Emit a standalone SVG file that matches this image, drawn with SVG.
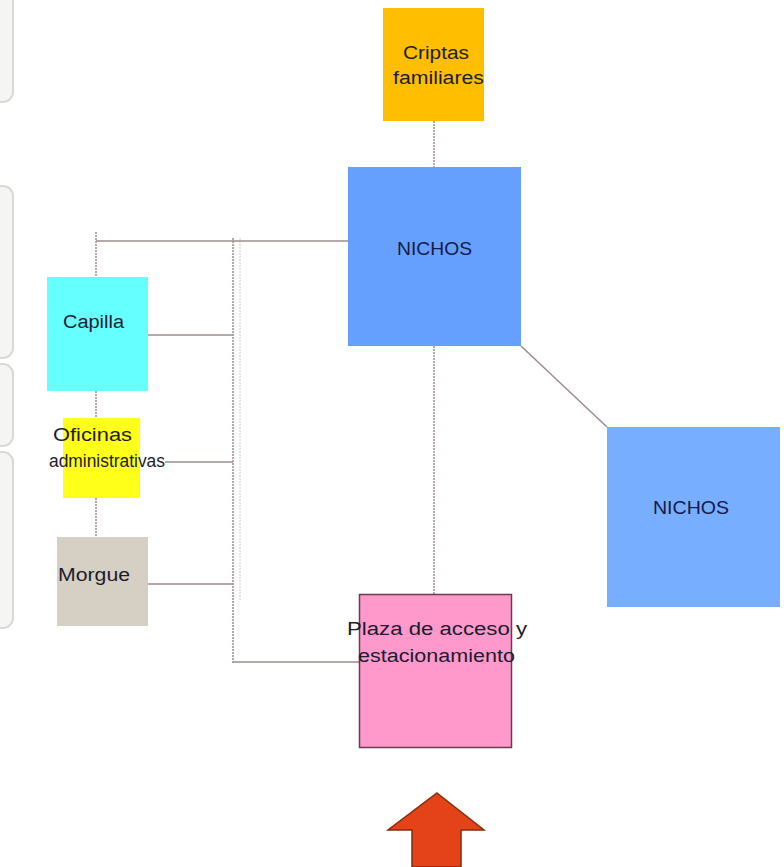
<svg xmlns="http://www.w3.org/2000/svg" width="784" height="867" viewBox="0 0 784 867">
<style>
.bk{fill:#f5f5f3;stroke:#d9d9d7;stroke-width:2}
.c{stroke:#9c8c8c;stroke-width:1.5;fill:none}
.d{stroke:#9c8c8c;stroke-width:1.5;fill:none;stroke-dasharray:2 1}
.t{font-family:"Liberation Sans",Arial,sans-serif;font-size:18px;fill:#1c1c2c}
</style>
<rect width="784" height="867" fill="#ffffff"/>
<g id="side-brackets">
<rect class="bk" x="-30" y="-20" width="43" height="122" rx="10"/>
<rect class="bk" x="-30" y="186" width="43" height="172" rx="10"/>
<rect class="bk" x="-30" y="364" width="43" height="82" rx="10"/>
<rect class="bk" x="-30" y="452" width="43" height="176" rx="10"/>
</g>
<g id="connectors">
<line class="d" x1="434" y1="121" x2="434" y2="167"/>
<line class="c" x1="96" y1="241" x2="348" y2="241"/>
<line class="d" x1="96" y1="232" x2="96" y2="277"/>
<line class="d" x1="96" y1="391" x2="96" y2="418"/>
<line class="d" x1="96" y1="498" x2="96" y2="537"/>
<line class="d" x1="233" y1="238" x2="233" y2="664"/>
<line class="d" x1="240" y1="238" x2="240" y2="600" stroke-opacity="0.3"/>
<line class="c" x1="148" y1="335" x2="233" y2="335"/>
<line class="c" x1="165" y1="462" x2="233" y2="462"/>
<line class="c" x1="148" y1="584" x2="233" y2="584"/>
<line class="c" x1="233" y1="662" x2="359" y2="662"/>
<line class="d" x1="434" y1="346" x2="434" y2="594"/>
<line class="c" x1="521" y1="346" x2="607" y2="427"/>
</g>
<g id="criptas">
<rect x="383" y="8" width="101" height="113" fill="#FFBF00"/>
<text class="t" x="403" y="59" textLength="66" lengthAdjust="spacingAndGlyphs">Criptas</text>
<text class="t" x="393" y="84" textLength="91" lengthAdjust="spacingAndGlyphs">familiares</text>
</g>
<g id="nichos1">
<rect x="348" y="167" width="173" height="179" fill="#66A0FF"/>
<text class="t" x="397" y="255" textLength="75" lengthAdjust="spacingAndGlyphs" style="fill:#141a4a">NICHOS</text>
</g>
<g id="nichos2">
<rect x="607" y="427" width="173" height="180" fill="#78AEFF"/>
<text class="t" x="653" y="514" textLength="76" lengthAdjust="spacingAndGlyphs" style="fill:#141a4a">NICHOS</text>
</g>
<g id="capilla">
<rect x="47" y="277" width="101" height="114" fill="#66FFFF"/>
<text class="t" x="63" y="328" textLength="61" lengthAdjust="spacingAndGlyphs">Capilla</text>
</g>
<g id="oficinas">
<rect x="63" y="418" width="77" height="80" fill="#FFFF1A"/>
<text class="t" x="53" y="441" textLength="79" lengthAdjust="spacingAndGlyphs">Oficinas</text>
<text class="t" x="49" y="467" textLength="116" lengthAdjust="spacingAndGlyphs" style="font-size:17.5px">administrativas</text>
</g>
<g id="morgue">
<rect x="57" y="537" width="91" height="89" fill="#D6CFC4"/>
<text class="t" x="58" y="581" textLength="72" lengthAdjust="spacingAndGlyphs">Morgue</text>
</g>
<g id="plaza">
<rect x="359.5" y="594.5" width="152" height="153" fill="#FF99CC" stroke="#6B3A50" stroke-width="1.5"/>
<text class="t" x="347" y="635" textLength="180" lengthAdjust="spacingAndGlyphs">Plaza de acceso y</text>
<text class="t" x="358" y="662" textLength="157" lengthAdjust="spacingAndGlyphs">estacionamiento</text>
</g>
<g id="arrow">
<polygon points="437,793 484,830 461,830 461,867 412,867 412,830 388,830" fill="#E4431A" stroke="#8B2A0A" stroke-width="1.5"/>
</g>
</svg>
